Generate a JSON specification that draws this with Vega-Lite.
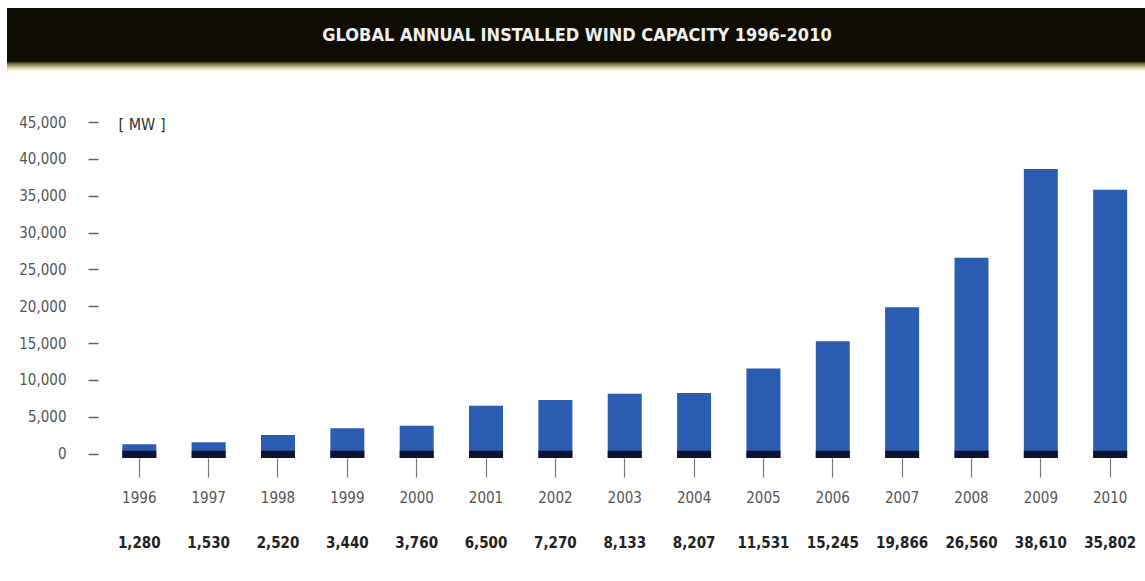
{
  "$schema": "https://vega.github.io/schema/vega-lite/v6.json",
  "background": "#ffffff",
  "padding": {"left": 7, "top": 8, "right": 0, "bottom": 0},
  "spacing": 0,
  "config": {
    "view": {"stroke": null},
    "font": "DejaVu Sans Condensed"
  },
  "datasets": {
    "capacity": [
      {"year": "1996", "mw": 1280},
      {"year": "1997", "mw": 1530},
      {"year": "1998", "mw": 2520},
      {"year": "1999", "mw": 3440},
      {"year": "2000", "mw": 3760},
      {"year": "2001", "mw": 6500},
      {"year": "2002", "mw": 7270},
      {"year": "2003", "mw": 8133},
      {"year": "2004", "mw": 8207},
      {"year": "2005", "mw": 11531},
      {"year": "2006", "mw": 15245},
      {"year": "2007", "mw": 19866},
      {"year": "2008", "mw": 26560},
      {"year": "2009", "mw": 38610},
      {"year": "2010", "mw": 35802}
    ]
  },
  "vconcat": [
    {
      "width": 1138,
      "height": 54,
      "view": {"fill": "#100e04", "stroke": null},
      "data": {"values": [{"label": "GLOBAL ANNUAL INSTALLED WIND CAPACITY 1996-2010"}]},
      "mark": {
        "type": "text",
        "color": "#f0f0f0",
        "fontSize": 18,
        "fontWeight": "bold",
        "font": "DejaVu Sans Condensed",
        "baseline": "middle",
        "align": "center",
        "dx": 1,
        "dy": 1
      },
      "encoding": {"text": {"field": "label"}}
    },
    {
      "width": 1138,
      "height": 53,
      "view": {
        "stroke": null,
        "fill": {
          "gradient": "linear",
          "x1": 0, "y1": 0, "x2": 0, "y2": 1,
          "stops": [
            {"offset": 0, "color": "#3e3920"},
            {"offset": 0.05, "color": "#858057"},
            {"offset": 0.1, "color": "#ccc790"},
            {"offset": 0.14, "color": "#eeebc8"},
            {"offset": 0.18, "color": "#fefefb"},
            {"offset": 1, "color": "#ffffff"}
          ]
        }
      },
      "data": {"values": [{}]},
      "mark": {"type": "text", "text": ""},
      "encoding": {}
    },
    {
      "width": 1138,
      "height": 336,
      "data": {"name": "capacity"},
      "resolve": {"axis": {"y": "independent"}},
      "encoding": {
        "x": {
          "field": "year",
          "type": "ordinal",
          "scale": {"type": "band", "paddingInner": 0.51, "paddingOuter": 0.96, "align": 0.866},
          "axis": {
            "title": null,
            "domain": false,
            "labelAngle": 0,
            "tickSize": 19,
            "tickColor": "#777777",
            "tickWidth": 1.2,
            "labelPadding": 13,
            "labelFontSize": 15,
            "labelColor": "#555555",
            "labelFont": "DejaVu Sans Condensed"
          }
        }
      },
      "layer": [
        {
          "mark": {"type": "bar", "color": "#2a5cb2"},
          "encoding": {
            "y": {
              "field": "mw",
              "type": "quantitative",
              "scale": {"domain": [-600, 45000], "nice": false, "zero": false},
              "axis": {
                "values": [0, 5000, 10000, 15000, 20000, 25000, 30000, 35000, 40000, 45000],
                "format": ",d",
                "grid": false,
                "domain": false,
                "offset": -91,
                "tickSize": 10,
                "tickWidth": 1.5,
                "tickColor": "#666666",
                "labelPadding": 22,
                "labelFontSize": 15,
                "labelColor": "#555555",
                "labelFont": "DejaVu Sans Condensed",
                "title": "[ MW ]",
                "titleAngle": 0,
                "titleAlign": "left",
                "titleBaseline": "middle",
                "titleX": 20,
                "titleY": 2,
                "titleFontSize": 16,
                "titleFontWeight": "normal",
                "titleColor": "#333333",
                "titleFont": "DejaVu Sans Condensed"
              }
            },
            "y2": {"datum": -600}
          }
        },
        {
          "mark": {"type": "bar", "color": "#0b1430"},
          "encoding": {
            "y": {"datum": -600, "type": "quantitative", "axis": null},
            "y2": {"datum": 400}
          }
        }
      ]
    },
    {
      "width": 1138,
      "height": 76,
      "data": {"name": "capacity"},
      "mark": {
        "type": "text",
        "fontSize": 15,
        "fontWeight": "bold",
        "color": "#222222",
        "font": "DejaVu Sans Condensed",
        "baseline": "middle"
      },
      "encoding": {
        "x": {
          "field": "year",
          "type": "ordinal",
          "bandPosition": 0.5,
          "scale": {"type": "band", "paddingInner": 0.51, "paddingOuter": 0.96, "align": 0.866},
          "axis": null
        },
        "text": {"field": "mw", "type": "quantitative", "format": ","}
      }
    }
  ]
}
